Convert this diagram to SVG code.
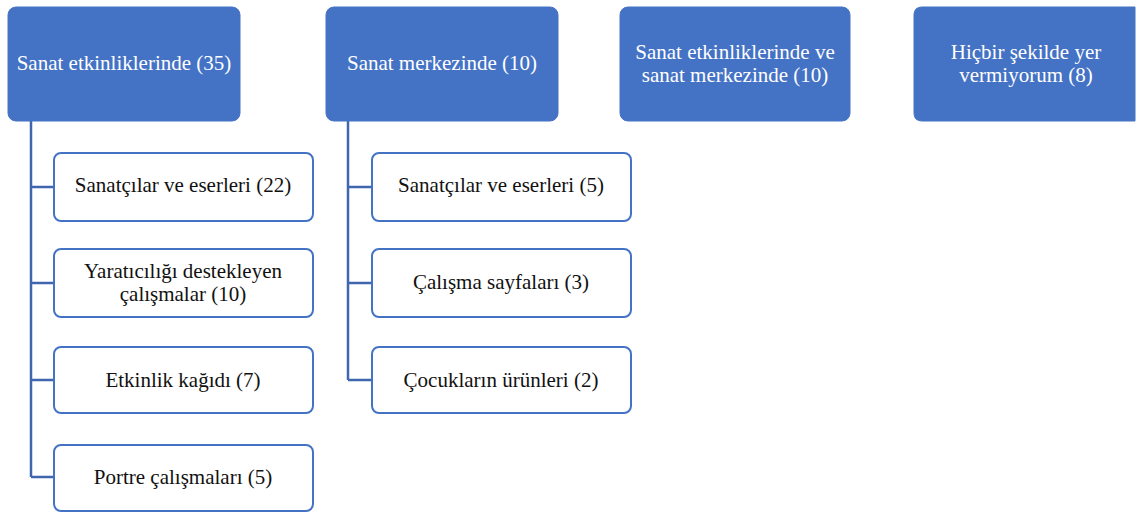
<svg xmlns="http://www.w3.org/2000/svg" width="1137" height="513" viewBox="0 0 1137 513">
<style>
.top{fill:#4472C4;stroke:#4472C4;stroke-width:1}
.child{fill:#ffffff;stroke:#4472C4;stroke-width:2}
.tw{font-family:"Liberation Serif","Times New Roman",serif;font-size:21px;fill:#ffffff;text-anchor:middle}
.tb{font-family:"Liberation Serif","Times New Roman",serif;font-size:21px;fill:#111111;text-anchor:middle}
.conn{fill:none;stroke:#3F66AE;stroke-width:2.5}
</style>
<rect width="1137" height="513" fill="#ffffff"/>
<g id="connectors">
<path class="conn" d="M31,121 V477 M31,187 H54 M31,283 H54 M31,380 H54 M31,477 H54"/>
<path class="conn" d="M348,121 V380 M348,187 H372 M348,283 H372 M348,380 H372"/>
</g>
<g id="n1"><rect class="top" x="8" y="7" width="232" height="114" rx="8"/><text class="tw" x="124" y="70">Sanat etkinliklerinde (35)</text></g>
<g id="n2"><rect class="top" x="326" y="7" width="232" height="114" rx="8"/><text class="tw" x="442" y="70">Sanat merkezinde (10)</text></g>
<g id="n3"><rect class="top" x="620" y="7" width="230" height="114" rx="8"/><text class="tw" x="735" y="59">Sanat etkinliklerinde ve</text><text class="tw" x="735" y="82">sanat merkezinde (10)</text></g>
<g id="n4"><path class="top" d="M922,7 H1135 V121 H922 Q914,121 914,113 V15 Q914,7 922,7 Z"/><text class="tw" x="1026" y="59">Hiçbir şekilde yer</text><text class="tw" x="1026" y="82">vermiyorum (8)</text></g>
<g id="c11"><rect class="child" x="54" y="153" width="259" height="68" rx="7"/><text class="tb" x="183" y="192">Sanatçılar ve eserleri (22)</text></g>
<g id="c12"><rect class="child" x="54" y="249" width="259" height="68" rx="7"/><text class="tb" x="183" y="278">Yaratıcılığı destekleyen</text><text class="tb" x="183" y="301">çalışmalar (10)</text></g>
<g id="c13"><rect class="child" x="54" y="347" width="259" height="66" rx="7"/><text class="tb" x="183" y="387">Etkinlik kağıdı (7)</text></g>
<g id="c14"><rect class="child" x="54" y="445" width="259" height="66" rx="7"/><text class="tb" x="183" y="484">Portre çalışmaları (5)</text></g>
<g id="c21"><rect class="child" x="372" y="153" width="259" height="68" rx="7"/><text class="tb" x="501" y="192">Sanatçılar ve eserleri (5)</text></g>
<g id="c22"><rect class="child" x="372" y="249" width="259" height="68" rx="7"/><text class="tb" x="501" y="289">Çalışma sayfaları (3)</text></g>
<g id="c23"><rect class="child" x="372" y="347" width="259" height="66" rx="7"/><text class="tb" x="501" y="387">Çocukların ürünleri (2)</text></g>
</svg>
